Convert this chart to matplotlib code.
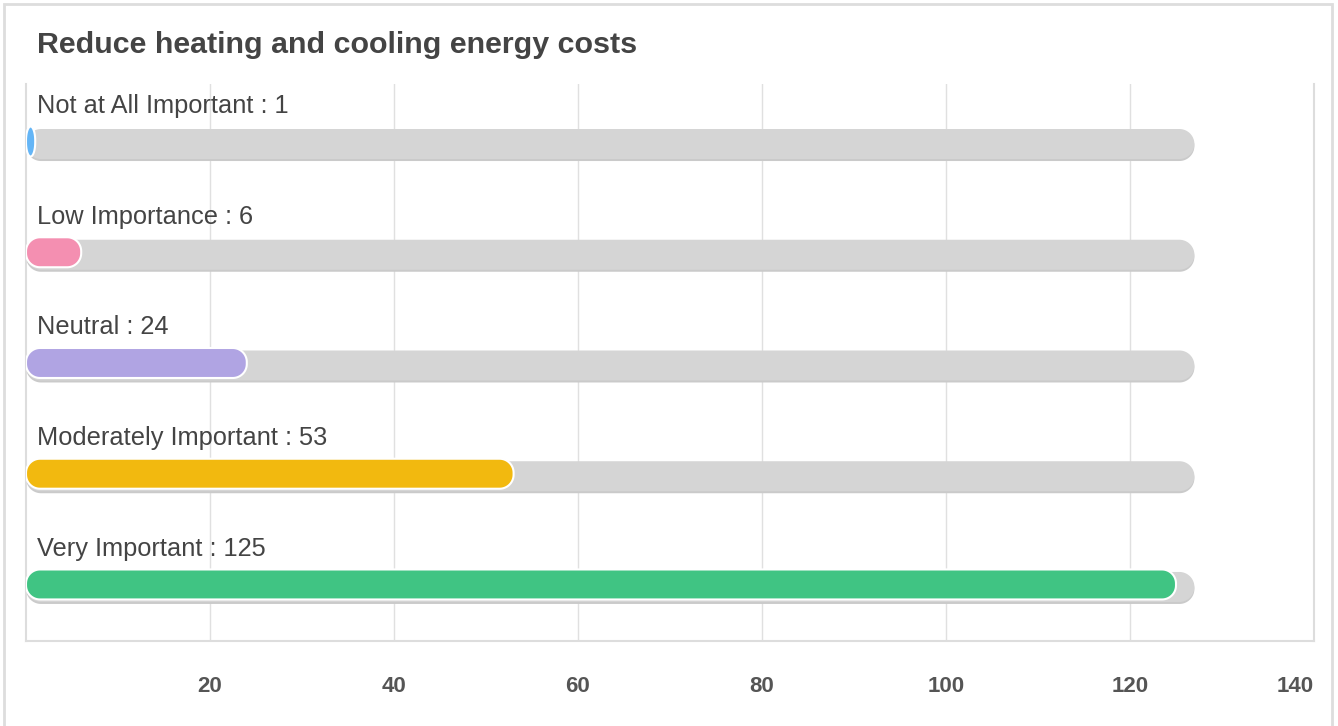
import matplotlib
matplotlib.use("Agg")
import numpy as np
import matplotlib.pyplot as plt
from matplotlib.patches import Polygon, Rectangle

# ================================================================
# Daten
# ================================================================
TITLE = "Reduce heating and cooling energy costs"
categories = ["Not at All Important", "Low Importance", "Neutral",
              "Moderately Important", "Very Important"]
values = [1, 6, 24, 53, 125]
track_max = 127
colors = ["#64b5f6", "#f48fb1", "#b0a4e3", "#f2b90f", "#40c483"]
xticks = [20, 40, 60, 80, 100, 120, 140]

# ================================================================
# Layout (Pixel)
# ================================================================
W, H, DPI = 1338, 726, 100
AX_L, AX_R, AX_T, AX_B = 26, 1314, 84, 641
X_MIN, X_MAX = 0, 140
Y_TOP, Y_BOT = -0.542, 4.488

plt.rcParams['font.family'] = ['Liberation Sans', 'DejaVu Sans']

fig = plt.figure(figsize=(W / DPI, H / DPI), dpi=DPI)
ax = fig.add_axes([AX_L / W, 1 - AX_B / H, (AX_R - AX_L) / W, (AX_B - AX_T) / H])
ax.set_xlim(X_MIN, X_MAX)
ax.set_ylim(Y_BOT, Y_TOP)

px_x = (AX_R - AX_L) / (X_MAX - X_MIN)      # Pixel pro x-Einheit
px_y = (AX_B - AX_T) / (Y_BOT - Y_TOP)      # Pixel pro y-Einheit

# Rahmen der Karte
fig.patches.append(Rectangle((4 / W, -0.05), (1332 - 4) / W, 1.05 - 4 / H,
                             transform=fig.transFigure, fill=False,
                             edgecolor="#dddddd", linewidth=2))

# Gitter & Achsen
ax.set_xticks(xticks)
ax.set_xticklabels([str(t) for t in xticks], fontsize=16, fontweight="bold", color="#555555")
ax.get_xticklabels()[-1].set_ha("right")
ax.tick_params(axis="x", length=0, pad=25)
ax.set_yticks([])
ax.grid(True, axis="x", color="#e0e0e0", linewidth=1)
ax.set_axisbelow(True)
ax.spines["top"].set_visible(False)
for side in ["left", "right", "bottom"]:
    ax.spines[side].set_color("#dddddd")
    ax.spines[side].set_linewidth(1.5)


def rounded_bar(x0, x1, yc, h_px, r_px, **kw):
    # abgerundeter Balken, Radius in Pixeln
    w_px = (x1 - x0) * px_x
    rx = min(r_px, w_px / 2) / px_x
    ry = min(r_px, h_px / 2) / px_y
    hh = h_px / px_y / 2
    t = np.linspace(0, np.pi / 2, 20)
    pts = []
    for cx, cy, a0 in [(x1 - rx, yc - hh + ry, -np.pi / 2),
                       (x1 - rx, yc + hh - ry, 0),
                       (x0 + rx, yc + hh - ry, np.pi / 2),
                       (x0 + rx, yc - hh + ry, np.pi)]:
        a = a0 + t
        pts += list(zip(cx + rx * np.cos(a), cy + ry * np.sin(a)))
    p = Polygon(pts, closed=True, **kw)
    ax.add_patch(p)
    return p


for i, (cat, val, col) in enumerate(zip(categories, values, colors)):
    # Schatten + Hintergrundbalken
    rounded_bar(0, track_max, i + 2.0 / px_y, 30, 15, facecolor="#cacaca",
                edgecolor="none", zorder=2)
    rounded_bar(0, track_max, i, 30, 15, facecolor="#d5d5d5",
                edgecolor="none", zorder=2)
    # Wertbalken
    rounded_bar(0, val, i - 2.5 / px_y, 30, 14, facecolor=col,
                edgecolor="white", linewidth=1.5, zorder=3)
    ax.text(11 / px_x, i - 38 / px_y, f"{cat} : {val}", fontsize=18.3,
            color="#444444", ha="left", va="center", zorder=4)

fig.text(37 / W, 1 - 45 / H, TITLE, fontsize=21.9, fontweight="bold",
         color="#444444", ha="left", va="center")

fig.savefig("out.png", dpi=DPI)
